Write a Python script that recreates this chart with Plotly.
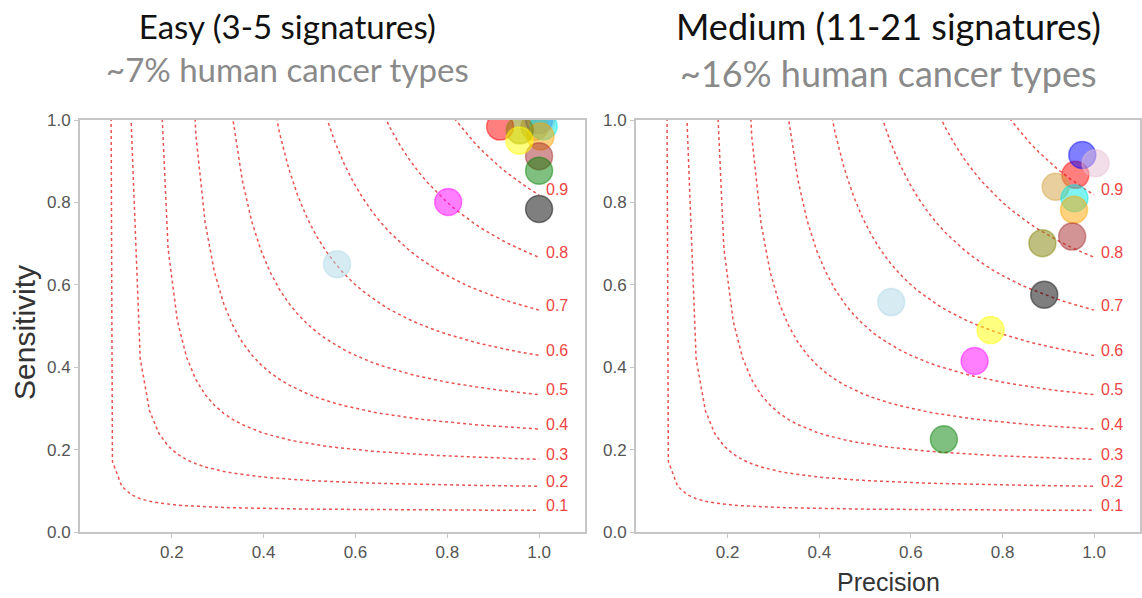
import numpy as np
import plotly.graph_objects as go

# ---------------- data ----------------
f_scores = [0.1, 0.2, 0.3, 0.4, 0.5, 0.6, 0.7, 0.8, 0.9]
f_labels = ["0.1", "0.2", "0.3", "0.4", "0.5", "0.6", "0.7", "0.8", "0.9"]

methods = ["m1", "m2", "m3", "m4", "m5", "m6", "m7", "m8", "m9", "m10", "m11", "m12", "m13"]
method_colors = [
    (255, 0, 0),      # red
    (0, 0, 255),      # blue
    (230, 190, 210),  # lavender / pink
    (210, 160, 60),   # tan
    (0, 230, 230),    # cyan
    (255, 165, 0),    # orange
    (165, 42, 42),    # brown
    (128, 128, 0),    # olive
    (0, 0, 0),        # black
    (173, 216, 230),  # light blue
    (255, 255, 0),    # yellow
    (255, 0, 255),    # magenta
    (0, 128, 0),      # green
]

easy_precision = [0.915, 1.000, 1.005, 0.990, 1.010, 1.003, 1.000, 0.958, 1.000, 0.560, 0.957, 0.802, 1.000]
easy_sensitivity = [0.984, 1.000, 1.000, 0.983, 0.985, 0.960, 0.912, 0.975, 0.784, 0.650, 0.950, 0.801, 0.877]

medium_precision = [0.959, 0.974, 1.003, 0.916, 0.957, 0.956, 0.952, 0.887, 0.891, 0.557, 0.774, 0.739, 0.672]
medium_sensitivity = [0.867, 0.915, 0.895, 0.838, 0.810, 0.782, 0.717, 0.701, 0.576, 0.558, 0.490, 0.415, 0.225]

panel_titles = ["Easy (3-5 signatures)", "Medium (11-21 signatures)"]
panel_subtitles = ["~7% human cancer types", "~16% human cancer types"]

x_ticks = [0.2, 0.4, 0.6, 0.8, 1.0]
x_ticklabels = ["0.2", "0.4", "0.6", "0.8", "1.0"]
y_ticks = [0.0, 0.2, 0.4, 0.6, 0.8, 1.0]
y_ticklabels = ["0.0", "0.2", "0.4", "0.6", "0.8", "1.0"]

# ---------------- figure ----------------
W, H = 1142, 598
fig = go.Figure()

domains_x = [[80 / W, 585 / W], [636 / W, 1140 / W]]
domain_y = [(H - 532) / H, (H - 120) / H]
axes = [("x", "y"), ("x2", "y2")]

line_color = "rgba(232,50,50,0.85)"
label_color = "#ee4444"

panels = [(easy_precision, easy_sensitivity), (medium_precision, medium_sensitivity)]

for p, (xa, ya) in enumerate(axes):
    # iso-F curves
    for f, lab in zip(f_scores, f_labels):
        xs = np.linspace(0.01, 1, 50)
        ys = f * xs / (2 * xs - f)
        keep = ys >= 0
        fig.add_trace(go.Scatter(
            x=xs[keep], y=ys[keep], mode="lines", xaxis=xa, yaxis=ya,
            line=dict(color=line_color, width=1.5, dash="dot"),
            hoverinfo="skip", showlegend=False))
        fig.add_annotation(
            x=1.01, y=f / (2 - f) + 0.012, xref=xa, yref=ya, text=lab,
            showarrow=False, xanchor="left", yanchor="middle",
            font=dict(family="Liberation Sans, Arial", size=16, color=label_color))
    # method markers
    px, py = panels[p]
    for i, m in enumerate(methods):
        r, g, b = method_colors[i]
        fig.add_trace(go.Scatter(
            x=[px[i]], y=[py[i]], mode="markers", xaxis=xa, yaxis=ya, name=m,
            marker=dict(size=27, color=f"rgba({r},{g},{b},0.5)",
                        line=dict(color=f"rgba({r},{g},{b},0.45)", width=1.5)),
            showlegend=False))

    # title + subtitle (one text block)
    cx = [287 / W, 888 / W][p]
    fs = [33, 36][p]
    cy = [48, 49][p]
    fig.add_annotation(x=cx, y=1 - cy / H, xref="paper", yref="paper",
                       text=(f"{panel_titles[p]}<br>"
                             f"<span style='color:#8a8a8a'>{panel_subtitles[p]}</span>"),
                       showarrow=False, align="center",
                       xanchor="center", yanchor="middle",
                       font=dict(family="Lato, Open Sans", size=fs, color="#111111"))

axis_common = dict(showline=True, mirror=True, linecolor="#c6c6c6", linewidth=2,
                   showgrid=False, zeroline=False, ticks="outside", ticklen=4,
                   tickcolor="#c6c6c6", automargin=False,
                   tickfont=dict(family="Liberation Sans, Arial", size=17, color="#555555"))

for p, (xa, ya) in enumerate(axes):
    xkey = "xaxis" if p == 0 else "xaxis2"
    ykey = "yaxis" if p == 0 else "yaxis2"
    fig.update_layout({
        xkey: dict(domain=domains_x[p], range=[0, 1.1], tickvals=x_ticks,
                   ticktext=x_ticklabels, anchor=ya, **axis_common),
        ykey: dict(domain=domain_y, range=[0, 1.0], tickvals=y_ticks,
                   ticktext=y_ticklabels, anchor=xa, **axis_common),
    })

fig.add_annotation(x=24 / W, y=1 - 333 / H, xref="paper", yref="paper",
                   text="Sensitivity", textangle=-90, showarrow=False,
                   xanchor="center", yanchor="middle",
                   font=dict(family="Liberation Sans, Arial", size=30, color="#333333"))
fig.add_annotation(x=888 / W, y=1 - 582 / H, xref="paper", yref="paper",
                   text="Precision", showarrow=False,
                   xanchor="center", yanchor="middle",
                   font=dict(family="Liberation Sans, Arial", size=25, color="#333333"))

fig.update_layout(width=W, height=H, margin=dict(l=0, r=0, t=0, b=0),
                  paper_bgcolor="white", plot_bgcolor="white", showlegend=False)

fig.write_html("out.html", config={"displayModeBar": False},
               post_script="document.body.style.margin='0';document.body.style.overflow='hidden';")
